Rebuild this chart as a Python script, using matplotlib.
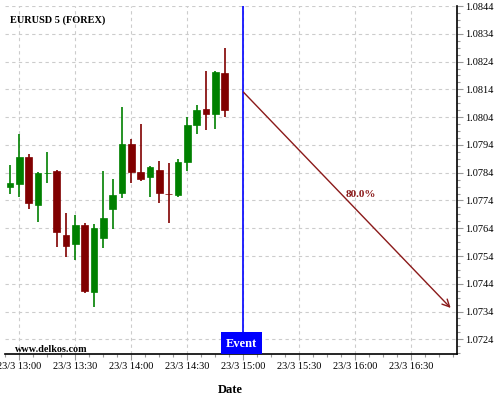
import matplotlib
matplotlib.use('Agg')
import matplotlib.pyplot as plt
import matplotlib.dates as mdates
import matplotlib.ticker as mticker
from matplotlib.patches import Rectangle
from datetime import datetime, timedelta

# ---- data ----
times = ["12:55", "13:00", "13:05", "13:10", "13:15", "13:20", "13:25", "13:30",
         "13:35", "13:40", "13:45", "13:50", "13:55", "14:00", "14:05", "14:10",
         "14:15", "14:20", "14:25", "14:30", "14:35", "14:40", "14:45", "14:50"]
opens  = [1.07790, 1.07799, 1.07897, 1.07724, 1.07837, 1.07847, 1.07616, 1.07583,
          1.07652, 1.07412, 1.07606, 1.07709, 1.07768, 1.07943, 1.07841, 1.07825,
          1.07850, 1.07764, 1.07760, 1.07879, 1.08012, 1.08069, 1.08051, 1.08200]
highs  = [1.07868, 1.07979, 1.07907, 1.07843, 1.07913, 1.07849, 1.07694, 1.07688,
          1.07658, 1.07655, 1.07847, 1.07817, 1.08075, 1.07961, 1.08014, 1.07864,
          1.07883, 1.07874, 1.07889, 1.08042, 1.08084, 1.08207, 1.08206, 1.08288]
lows   = [1.07762, 1.07754, 1.07708, 1.07663, 1.07802, 1.07571, 1.07535, 1.07526,
          1.07406, 1.07355, 1.07570, 1.07636, 1.07748, 1.07802, 1.07811, 1.07754,
          1.07730, 1.07660, 1.07751, 1.07847, 1.07978, 1.07994, 1.07996, 1.08039]
closes = [1.07804, 1.07897, 1.07730, 1.07838, 1.07838, 1.07627, 1.07577, 1.07652,
          1.07415, 1.07640, 1.07675, 1.07760, 1.07943, 1.07843, 1.07817, 1.07859,
          1.07768, 1.07763, 1.07877, 1.08012, 1.08066, 1.08051, 1.08203, 1.08066]

event_time = "15:00"
arrow_start = ("15:00", 1.08130)
arrow_end = ("16:51", 1.07353)
arrow_label = "80.0%"
label_pos = ("16:03", 1.07763)
tick_times = ["13:00", "13:30", "14:00", "14:30", "15:00", "15:30", "16:00", "16:30"]
y_ticks = [1.0724, 1.0734, 1.0744, 1.0754, 1.0764, 1.0774, 1.0784, 1.0794,
           1.0804, 1.0814, 1.0824, 1.0834, 1.0844]

day = datetime(2024, 3, 23)


def t(s):
    h, m = s.split(":")
    return mdates.date2num(day + timedelta(hours=int(h), minutes=float(m)))


SERIF = ['Liberation Serif', 'DejaVu Serif']
plt.rcParams['font.family'] = SERIF

fig = plt.figure(figsize=(5, 4), dpi=100)
ax = fig.add_axes([0.01, 0.115, 0.904, 0.87])

GREEN = '#008000'
RED = '#800000'
width = 3.6 / 1440.0

for s, o, h, l, c in zip(times, opens, highs, lows, closes):
    x = t(s)
    col = GREEN if c >= o else RED
    ax.vlines(x, l, h, color=col, linewidth=1.2, zorder=3)
    bottom = min(o, c)
    height = max(abs(c - o), 0.000012)
    ax.add_patch(Rectangle((x - width / 2, bottom), width, height,
                           facecolor=col, edgecolor=col, linewidth=0.5, zorder=4))

# event line
ex = t(event_time)
ax.axvline(ex, color='#0000ff', linewidth=1.2, zorder=5)

# event box
bx0 = t("14:48.2")
bx1 = t("15:09.9")
ax.add_patch(Rectangle((bx0, 0), bx1 - bx0, 0.064, transform=ax.get_xaxis_transform(),
                       facecolor='#0000ff', edgecolor='none', zorder=6, clip_on=False))
ax.text((bx0 + bx1) / 2, 0.030, "Event", transform=ax.get_xaxis_transform(),
        color='white', fontsize=9, fontweight='bold', ha='center', va='center', zorder=7)

# arrow
ax.annotate("", xy=(t(arrow_end[0]), arrow_end[1]),
            xytext=(t(arrow_start[0]), arrow_start[1]),
            arrowprops=dict(arrowstyle='->', color='#8b1a1a', lw=1.0,
                            shrinkA=0, shrinkB=0, mutation_scale=13), zorder=6)
ax.text(t(label_pos[0]), label_pos[1], arrow_label, color='#8b1a1a', fontsize=8,
        fontweight='bold', ha='center', va='center', zorder=7)

# axes
ax.set_xlim(t("12:52.3"), t("16:54.4"))
ax.set_ylim(1.071872, 1.0844)
ax.set_xticks([t(s) for s in tick_times])
ax.set_xticklabels(["23/3 " + s for s in tick_times])
ax.xaxis.set_minor_locator(mticker.AutoMinorLocator(4))
ax.yaxis.tick_right()
ax.set_yticks(y_ticks)
ax.set_yticklabels(["%.4f" % v for v in y_ticks])
ax.yaxis.set_minor_locator(mticker.AutoMinorLocator(4))

for sp in ['left', 'top']:
    ax.spines[sp].set_visible(False)
ax.spines['right'].set_color('black')
ax.spines['bottom'].set_color('black')
ax.spines['right'].set_linewidth(1.2)
ax.spines['bottom'].set_linewidth(1.2)

ax.tick_params(axis='both', which='major', direction='out', length=4, width=0.8,
               color='#999999', labelsize=7.5, labelcolor='black', pad=2)
ax.tick_params(axis='both', which='minor', direction='out', length=2.5, width=0.8,
               color='#999999')
ax.grid(True, which='major', color='#cccccc', linestyle=(0, (3, 3)), linewidth=0.8)
ax.set_axisbelow(True)

ax.text(0.022, 0.0135, "www.delkos.com", transform=ax.transAxes, fontsize=7.3,
        fontweight='bold', ha='left', va='center', zorder=7)
fig.text(0.02, 1 - 20.5 / 400, "EURUSD 5 (FOREX)", fontsize=7.4, fontweight='bold',
         ha='left', va='center')
fig.text(0.46, 1 - 390 / 400, "Date", fontsize=9, fontweight='bold',
         ha='center', va='center')

fig.savefig("out.png", dpi=100)
